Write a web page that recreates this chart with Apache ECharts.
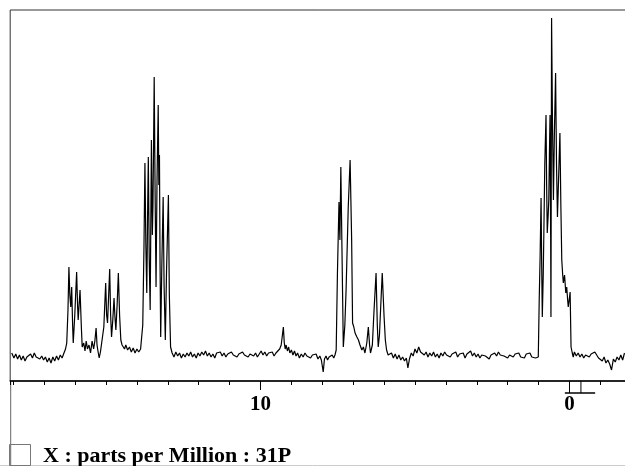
<!DOCTYPE html>
<html>
<head>
<meta charset="utf-8">
<script src="https://cdn.jsdelivr.net/npm/echarts@6/dist/echarts.min.js"></script>
<style>
  html, body { margin: 0; padding: 0; background: #fff; }
  #chart { width: 625px; height: 466px; }
</style>
</head>
<body>
<div id="chart"></div>
<script>
// 31P spectrum: [ppm, intensity] pairs, region by region
var baseLeft = [[18.05,2],[17.98,-3],[17.92,1],[17.86,-4],[17.80,0],[17.74,-5],[17.68,-1],[17.62,-6],[17.56,-2],[17.50,-4],
  [17.44,1],[17.38,-3],[17.32,2],[17.26,-2],[17.20,0],[17.14,-4],[17.08,-1],[17.02,-5],[16.96,-2],[16.90,-7],
  [16.84,-3],[16.78,-8],[16.72,-2],[16.66,-6],[16.60,-1],[16.54,-5],[16.48,0],[16.42,-3],[16.36,2],[16.31,6]];
var groupA = [[16.27,12],[16.23,45],[16.20,88],[16.17,60],[16.14,48],[16.11,68],[16.08,30],[16.06,12],[16.01,40],[15.95,83],
  [15.92,50],[15.90,35],[15.87,50],[15.84,65],[15.80,30],[15.77,8],[15.72,12],[15.68,4],[15.64,14],[15.60,6],
  [15.55,10],[15.50,2],[15.45,14],[15.40,6],[15.36,14],[15.32,27],[15.29,10],[15.26,4],[15.22,-3],[15.18,3],
  [15.14,12],[15.07,28],[15.01,72],[14.98,40],[14.95,32],[14.92,55],[14.88,86],[14.85,40],[14.82,18],[14.78,35],
  [14.74,57],[14.71,38],[14.68,25],[14.64,50],[14.60,82],[14.56,40],[14.52,15],[14.48,10],[14.44,12],[14.40,6],
  [14.36,10],[14.30,5],[14.24,8],[14.18,3],[14.12,7],[14.06,2],[14.00,6],[13.94,3],[13.88,6],[13.84,8]];
var groupB = [[13.81,30],[13.77,110],[13.74,192],[13.71,110],[13.68,62],[13.65,150],[13.63,198],[13.60,95],[13.57,45],[13.55,130],
  [13.53,215],[13.50,120],[13.48,150],[13.46,210],[13.44,278],[13.41,160],[13.38,68],[13.35,170],[13.31,250],[13.29,170],
  [13.27,200],[13.25,90],[13.23,18],[13.19,95],[13.15,158],[13.12,70],[13.08,15],[13.04,85],[12.98,160],[12.95,60],
  [12.91,8],[12.86,2]];
var baseMid = [[12.80,-2],[12.74,3],[12.68,-1],[12.62,2],[12.56,-3],[12.50,1],[12.44,-2],[12.38,2],[12.32,-1],[12.26,3],
  [12.20,-2],[12.14,1],[12.08,-3],[12.02,2],[11.96,-1],[11.90,3],[11.84,0],[11.78,4],[11.72,-1],[11.66,2],
  [11.60,-2],[11.54,1],[11.48,-3],[11.42,2],[11.36,0],[11.30,3],[11.24,-1],[11.18,2],[11.12,-2],[11.06,1],
  [11.00,-1],[10.94,3],[10.88,0],[10.82,2],[10.76,-2],[10.70,1],[10.64,-1],[10.58,3],[10.52,0],[10.46,2],
  [10.40,-2],[10.34,1],[10.28,3],[10.22,-1],[10.16,2],[10.10,-2],[10.04,1],[9.98,4],[9.92,0],[9.86,3],
  [9.80,-1],[9.74,2],[9.68,0],[9.62,3],[9.56,-1],[9.50,2],[9.44,4],[9.38,6],[9.33,10],[9.29,20],
  [9.26,28],[9.23,12],[9.20,6],[9.17,10],[9.13,4],[9.09,8],[9.05,2],[9.00,5],[8.95,0],[8.90,4],
  [8.85,-1],[8.80,2],[8.74,-3],[8.68,1],[8.62,-2],[8.56,2],[8.50,-1],[8.44,1],[8.38,-3],[8.32,0],
  [8.26,-2],[8.20,1],[8.14,-4],[8.08,-1],[8.03,-5],[7.97,-17],[7.93,-4],[7.88,-1],[7.83,-5],[7.78,-2],
  [7.73,-4],[7.68,0],[7.63,-3],[7.59,0]];
var groupC = [[7.55,5],[7.51,82],[7.46,153],[7.43,115],[7.40,188],[7.36,98],[7.32,8],[7.27,30],[7.23,65],[7.16,148],
  [7.10,195],[7.05,115],[7.02,32],[6.98,28],[6.94,22],[6.88,18],[6.83,15],[6.78,10],[6.72,5],[6.67,8],
  [6.62,2],[6.56,12],[6.51,28],[6.47,10],[6.44,2],[6.38,10],[6.33,42],[6.26,82],[6.22,30],[6.19,8],
  [6.15,20],[6.11,48],[6.06,82],[6.00,38],[5.96,15],[5.92,5],[5.87,0],[5.81,-2]];
var baseRight = [[5.76,2],[5.70,-3],[5.64,1],[5.58,-4],[5.52,0],[5.46,-5],[5.40,-2],[5.34,-6],[5.28,-3],[5.23,-13],
  [5.18,-4],[5.12,2],[5.06,-1],[5.00,6],[4.94,2],[4.88,8],[4.82,3],[4.76,5],[4.70,0],[4.64,3],
  [4.58,-2],[4.52,2],[4.46,-1],[4.40,3],[4.34,-2],[4.28,1],[4.22,-3],[4.16,2],[4.10,-1],[4.04,3],
  [3.98,0],[3.92,2],[3.86,-2],[3.80,1],[3.74,-1],[3.68,3],[3.62,-2],[3.56,1],[3.50,-1],[3.44,2],
  [3.38,-3],[3.32,1],[3.26,0],[3.20,4],[3.14,-1],[3.08,2],[3.02,-2],[2.96,1],[2.90,-3],[2.84,0],
  [2.78,2],[2.72,-1],[2.66,1],[2.60,-4],[2.54,0],[2.48,-2],[2.42,2],[2.36,-1],[2.30,3],[2.24,0],
  [2.18,2],[2.12,-1],[2.06,1],[2.00,-3],[1.94,0],[1.88,2],[1.82,-2],[1.76,1],[1.70,-1],[1.64,2],
  [1.58,-2],[1.52,0],[1.46,-3],[1.40,1],[1.34,-1],[1.28,2],[1.22,-2],[1.16,0],[1.10,-3],[1.05,-1]];
var groupD = [[1.01,-2],[0.98,55],[0.95,100],[0.92,157],[0.90,90],[0.88,38],[0.85,80],[0.83,122],[0.80,190],[0.76,240],
  [0.74,170],[0.72,122],[0.69,140],[0.67,155],[0.65,200],[0.63,240],[0.61,120],[0.60,38],[0.58,337],[0.55,230],
  [0.52,155],[0.49,220],[0.45,282],[0.42,190],[0.39,138],[0.35,180],[0.31,222],[0.28,150],[0.25,95],[0.22,80],
  [0.20,72],[0.16,80],[0.12,62],[0.09,68],[0.06,55],[0.04,48],[0.01,55],[-0.02,63],[-0.05,8],[-0.09,2],[-0.12,-2]];
var baseEnd = [[-0.16,3],[-0.22,-1],[-0.28,2],[-0.34,-2],[-0.40,1],[-0.46,-3],[-0.52,0],[-0.58,2],[-0.64,-2],[-0.70,1],
  [-0.76,-1],[-0.82,3],[-0.88,0],[-0.94,-3],[-1.00,-1],[-1.06,-6],[-1.12,-2],[-1.18,-8],[-1.24,-5],[-1.30,-9],
  [-1.36,-15],[-1.42,-4],[-1.48,-7],[-1.54,-2],[-1.60,-5],[-1.66,0],[-1.72,-5],[-1.78,2]];

var tickLabels = [10, 0];
var axisTitle = 'X : parts per Million : 31P';

var spectrum = [].concat(baseLeft, groupA, groupB, baseMid, groupC, baseRight, groupD, baseEnd);

var chart = echarts.init(document.getElementById('chart'));
chart.setOption({
  animation: false,
  title: {
    text: axisTitle,
    left: 43,
    top: 445,
    padding: 0,
    textStyle: { fontFamily: 'Liberation Serif', fontSize: 22, fontWeight: 'bold', color: '#000' }
  },
  grid: {
    left: 10.2, top: 10, width: 621.1, height: 371,
    outerBoundsMode: 'none',
    show: true, borderColor: '#333', borderWidth: 1
  },
  xAxis: {
    type: 'value',
    inverse: true,
    min: -2,
    max: 18.1,
    interval: 1,
    axisLine: { onZero: false, lineStyle: { color: '#000', width: 1.5 } },
    axisTick: { length: 4, lineStyle: { color: '#000' } },
    splitLine: { show: false },
    axisLabel: {
      margin: 13,
      fontFamily: 'Liberation Serif',
      fontSize: 21,
      fontWeight: 'bold',
      color: '#000',
      formatter: function (v) { return tickLabels.indexOf(v) >= 0 ? String(v) : ''; }
    }
  },
  yAxis: { type: 'value', min: -26, max: 345, show: false },
  series: [{
    type: 'line',
    data: spectrum,
    showSymbol: false,
    lineStyle: { color: '#000', width: 1.2 },
    clip: true
  }]
});

// decorations: long tick at 10, integral bracket under 0, frame bits
var px = function (v) { return chart.convertToPixel({ xAxisIndex: 0 }, v); };
var yAxisPx = chart.convertToPixel({ yAxisIndex: 0 }, -26);
var ln = function (x1, y1, x2, y2, color, w) {
  return { type: 'line', shape: { x1: x1, y1: y1, x2: x2, y2: y2 }, style: { stroke: color, lineWidth: w || 1 } };
};
chart.setOption({
  graphic: [
    ln(px(10), yAxisPx, px(10), yAxisPx + 9, '#000', 1),
    ln(px(0), yAxisPx, px(0), yAxisPx + 12, '#000', 1),
    ln(px(-0.37), yAxisPx, px(-0.37), yAxisPx + 12, '#000', 1),
    ln(px(0.15), yAxisPx + 12, px(-0.83), yAxisPx + 12, '#000', 1.5),
    ln(10.7, yAxisPx, 10.7, 466, '#666', 1),
    ln(0, 465.5, 625, 465.5, '#ccc', 1),
    { type: 'rect', shape: { x: 9.5, y: 444.5, width: 21, height: 21 }, style: { fill: 'none', stroke: '#777', lineWidth: 1 } }
  ]
});
</script>
</body>
</html>
